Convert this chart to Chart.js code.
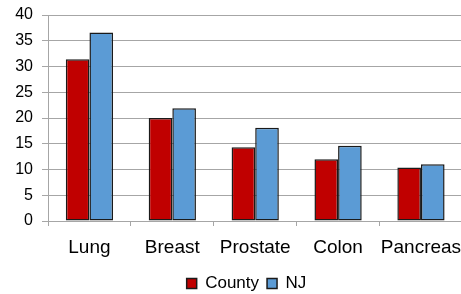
<!DOCTYPE html>
<html>
<head>
<meta charset="utf-8">
<script src="https://cdn.jsdelivr.net/npm/chart.js@4"></script>
<style>
  html, body { margin: 0; padding: 0; background: #ffffff; overflow: hidden; }
  #wrap { width: 472px; height: 294px; }
</style>
</head>
<body>
<div id="wrap"><canvas id="cancerChart" width="472" height="294"></canvas></div>
<script>
const categories = ['Lung', 'Breast', 'Prostate', 'Colon', 'Pancreas'];
const countyValues = [31.4, 20.0, 14.3, 12.0, 10.4];
const njValues = [36.6, 21.9, 18.1, 14.6, 11.0];
const yTicks = [0, 5, 10, 15, 20, 25, 30, 35, 40];

const gridGray = '#a6a6a6';
const fontFamily = 'Liberation Sans, Arial, sans-serif';

// nudge the legend right and down, the original sits lower and centred on the plot
const legendShift = {
  id: 'legendShift',
  afterLayout(chart) {
    if (chart.legend) {
      chart.legend.left += 15;
      chart.legend.right += 15;
      chart.legend.top += 8;
      chart.legend.bottom += 8;
    }
  }
};

const ctx = document.getElementById('cancerChart').getContext('2d');
new Chart(ctx, {
  type: 'bar',
  data: {
    labels: categories,
    datasets: [{
      label: 'County',
      data: countyValues,
      backgroundColor: '#c00000',
      borderColor: '#1a1a1a',
      borderWidth: 1.5,
      borderSkipped: false,
      categoryPercentage: 0.57,
      barPercentage: 1.0
    }, {
      label: 'NJ',
      data: njValues,
      backgroundColor: '#5b9bd5',
      borderColor: '#1a1a1a',
      borderWidth: 1.5,
      borderSkipped: false,
      categoryPercentage: 0.57,
      barPercentage: 1.0
    }]
  },
  options: {
    responsive: false,
    animation: false,
    devicePixelRatio: 1,
    layout: {
      padding: { top: 15, right: 9, left: 0, bottom: 0 }
    },
    plugins: {
      tooltip: { enabled: false },
      legend: {
        position: 'bottom',
        labels: {
          color: '#000000',
          boxWidth: 10,
          boxHeight: 10,
          padding: 8,
          font: { family: fontFamily, size: 17 }
        }
      }
    },
    scales: {
      x: {
        grid: {
          display: true,
          drawOnChartArea: false,
          drawTicks: true,
          tickLength: 5,
          offset: true,
          color: gridGray
        },
        border: { display: true, color: gridGray, width: 1 },
        ticks: {
          color: '#000000',
          padding: 10,
          maxRotation: 0,
          autoSkip: false,
          font: { family: fontFamily, size: 19 }
        },
        afterFit: (scale) => { scale.height = 38; }
      },
      y: {
        min: 0,
        max: 40,
        afterBuildTicks: (scale) => {
          scale.ticks = yTicks.map(v => ({ value: v }));
        },
        grid: {
          color: gridGray,
          lineWidth: 1,
          drawTicks: true,
          tickLength: 6
        },
        border: { display: true, color: gridGray, width: 1 },
        ticks: {
          color: '#000000',
          padding: 9,
          // small lineHeight keeps the label padding from pushing the plot down
          font: { family: fontFamily, size: 16, lineHeight: 0.6 }
        },
        afterFit: (scale) => { scale.width = 48; }
      }
    }
  },
  plugins: [legendShift]
});
</script>
</body>
</html>
